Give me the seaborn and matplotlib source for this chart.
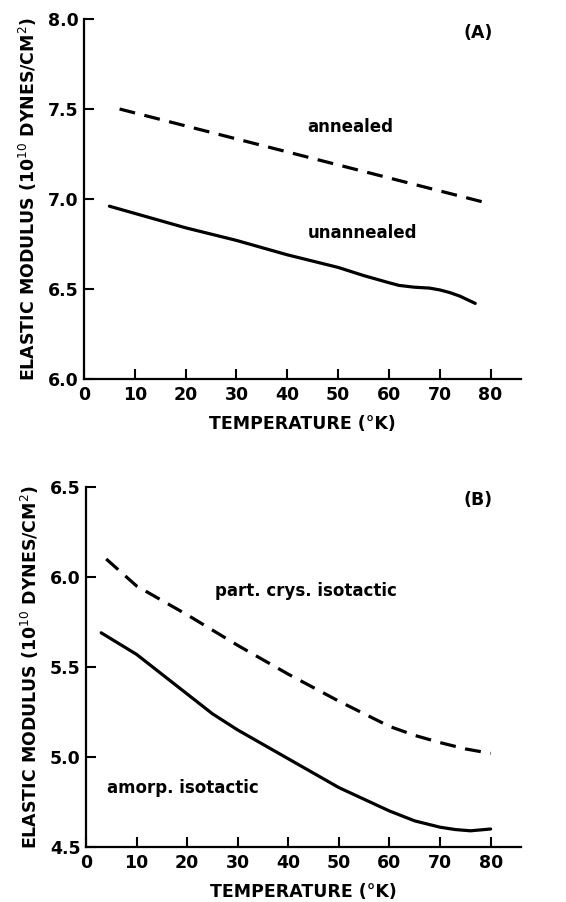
import matplotlib
matplotlib.use("Agg")
import matplotlib.pyplot as plt
import seaborn as sns
import pandas as pd

# Panel A data
a_annealed_T = [7, 79]
a_annealed_E = [7.50, 6.98]
a_unann_T = [5, 10, 20, 30, 40, 50, 55, 60, 62, 65, 68, 70, 72, 74, 77]
a_unann_E = [6.96, 6.92, 6.84, 6.77, 6.69, 6.62, 6.575, 6.535, 6.52, 6.51, 6.505, 6.495, 6.48, 6.46, 6.42]

# Panel B data
b_cryst_T = [4, 10, 20, 30, 40, 50, 60, 65, 70, 75, 80]
b_cryst_E = [6.10, 5.95, 5.79, 5.62, 5.46, 5.31, 5.17, 5.12, 5.08, 5.045, 5.02]
b_amorp_T = [3, 10, 20, 25, 30, 35, 40, 50, 60, 65, 70, 73, 76, 80]
b_amorp_E = [5.69, 5.57, 5.35, 5.24, 5.15, 5.07, 4.99, 4.83, 4.70, 4.645, 4.61, 4.597, 4.59, 4.60]

x_ticks = [0, 10, 20, 30, 40, 50, 60, 70, 80]
x_ticklabels = ["0", "10", "20", "30", "40", "50", "60", "70", "80"]
a_yticks = [6.0, 6.5, 7.0, 7.5, 8.0]
b_yticks = [4.5, 5.0, 5.5, 6.0, 6.5]

sns.set_style("ticks")
plt.rcParams['font.family'] = ['DejaVu Sans']
plt.rcParams['text.color'] = 'black'
plt.rcParams['axes.labelcolor'] = 'black'
plt.rcParams['xtick.color'] = 'black'
plt.rcParams['ytick.color'] = 'black'
plt.rcParams['axes.edgecolor'] = 'black'

W, H = 566, 902
fig = plt.figure(figsize=(W / 100, H / 100), dpi=100)

def ax_rect(l, t, r, b):
    return [l / W, 1 - b / H, (r - l) / W, (b - t) / H]

axA = fig.add_axes(ax_rect(84, 19, 521, 379))
axB = fig.add_axes(ax_rect(86, 487, 521, 847))

lw = 2.3
dash = (0, (5, 3))

dfA1 = pd.DataFrame({"T": a_annealed_T, "E": a_annealed_E})
dfA2 = pd.DataFrame({"T": a_unann_T, "E": a_unann_E})
sns.lineplot(data=dfA1, x="T", y="E", ax=axA, color="black", lw=lw, linestyle=dash)
sns.lineplot(data=dfA2, x="T", y="E", ax=axA, color="black", lw=lw)

dfB1 = pd.DataFrame({"T": b_cryst_T, "E": b_cryst_E})
dfB2 = pd.DataFrame({"T": b_amorp_T, "E": b_amorp_E})
sns.lineplot(data=dfB1, x="T", y="E", ax=axB, color="black", lw=lw, linestyle=dash)
sns.lineplot(data=dfB2, x="T", y="E", ax=axB, color="black", lw=lw)

fs = 12.5
ylabel = "ELASTIC MODULUS (10$^{10}$ DYNES/CM$^2$)"
for ax, yt, ylim in [(axA, a_yticks, (6.0, 8.0)), (axB, b_yticks, (4.5, 6.5))]:
    ax.set_xlim(0, 86)
    ax.set_ylim(*ylim)
    ax.set_xticks(x_ticks)
    ax.set_xticklabels(x_ticklabels)
    ax.set_yticks(yt)
    ax.set_yticklabels([f"{v:.1f}" for v in yt])
    ax.tick_params(direction="in", length=7, width=1.5, labelsize=fs, pad=5, colors="black")
    ax.tick_params(axis="y", pad=4)
    for lab in ax.get_xticklabels() + ax.get_yticklabels():
        lab.set_fontweight("bold")
    ax.spines["top"].set_visible(False)
    ax.spines["right"].set_visible(False)
    ax.spines["left"].set_linewidth(1.6)
    ax.spines["bottom"].set_linewidth(1.6)
    ax.set_xlabel("TEMPERATURE (°K)", fontsize=fs, fontweight="bold", labelpad=8, color="black")
    ax.set_ylabel(ylabel, fontsize=fs, fontweight="bold", labelpad=6, color="black")

txt = dict(fontsize=12, fontweight="bold", color="black", va="center")
axA.text(44, 7.40, "annealed", ha="left", **txt)
axA.text(44, 6.81, "unannealed", ha="left", **txt)
axA.text(77.5, 7.92, "(A)", ha="center", fontsize=12.5, fontweight="bold", va="center", color="black")

axB.text(25.5, 5.92, "part. crys. isotactic", ha="left", **txt)
axB.text(4.2, 4.83, "amorp. isotactic", ha="left", **txt)
axB.text(77.5, 6.43, "(B)", ha="center", fontsize=12.5, fontweight="bold", va="center", color="black")

fig.savefig("out.png", dpi=100)
